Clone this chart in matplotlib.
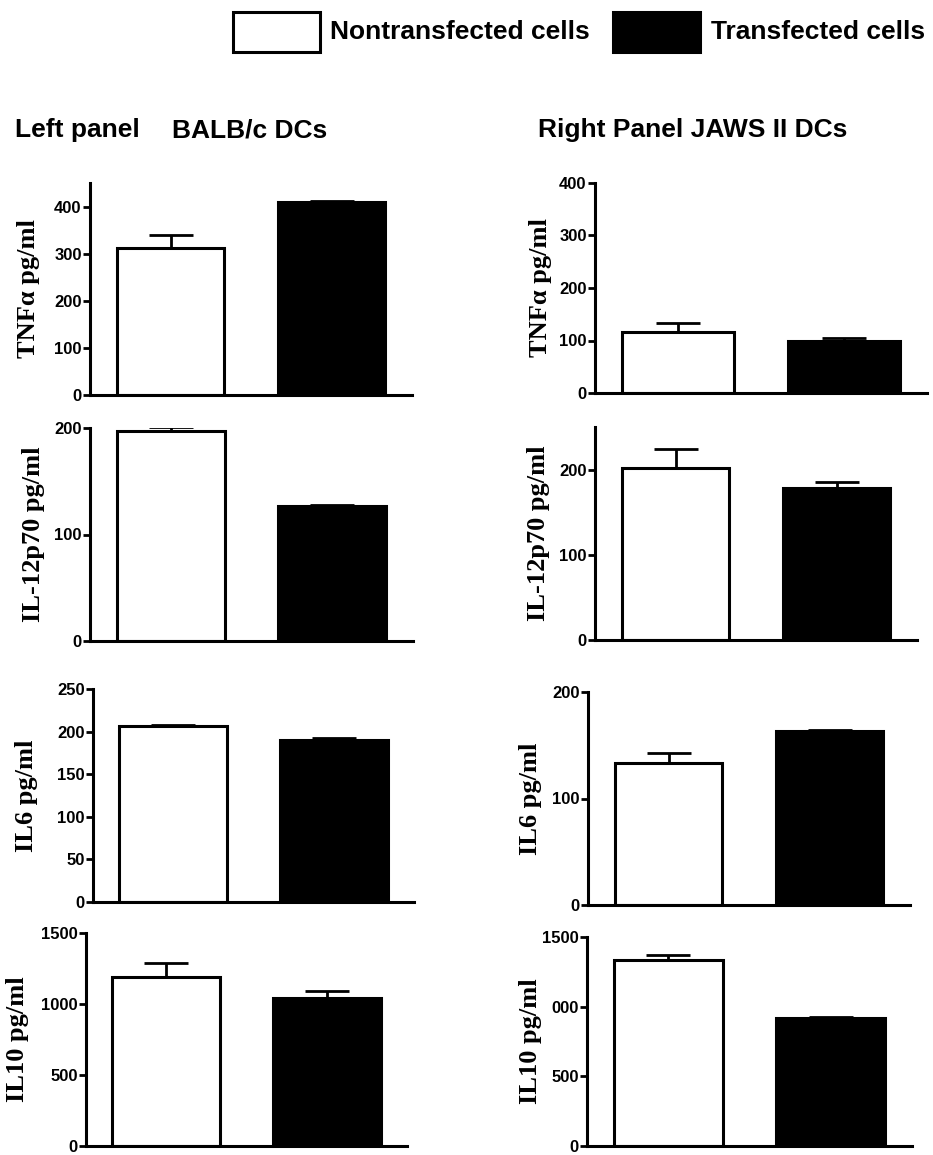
import matplotlib
matplotlib.use('Agg')
import matplotlib.pyplot as plt
from matplotlib.patches import Rectangle

plt.rcParams['font.family'] = ['Liberation Sans', 'DejaVu Sans']
plt.rcParams['font.weight'] = 'bold'

# data (upper error bar only)
groups = ['Nontransfected cells', 'Transfected cells']
cytokines = ['TNFα pg/ml', 'IL-12p70 pg/ml', 'IL6 pg/ml', 'IL10 pg/ml']

left_means = [[312, 410], [197, 127], [206, 190], [1190, 1042]]
left_errs = [[27, 2], [4, 1], [2, 2], [100, 52]]
right_means = [[116, 100], [202, 178], [133, 163], [1338, 917]]
right_errs = [[17, 4], [22, 7], [10, 1], [33, 11]]

left_ylims = [450, 200, 250, 1500]
left_ticks = [[0, 100, 200, 300, 400], [0, 100, 200],
              [0, 50, 100, 150, 200, 250], [0, 500, 1000, 1500]]
right_ylims = [400, 250, 200, 1500]
right_ticks = [[0, 100, 200, 300, 400], [0, 100, 200],
               [0, 100, 200], [0, 500, 1000, 1500]]
right_ticklabels = [None, None, None, ['0', '500', '000', '1500']]

W, H = 933, 1155

# axes boxes in pixels: x of y-axis, y of top, x of right end, y of zero line
left_boxes = [(90, 183, 412, 395), (90, 428, 413, 641),
              (93, 689, 414, 902), (86, 933, 407, 1146)]
right_boxes = [(595, 183, 927, 393), (595, 427, 917, 640),
               (588, 692, 910, 905), (587, 937, 912, 1146)]
left_label_x = [29, 34, 26, 18]
right_label_x = [540, 539, 530, 531]


def px_rect(x0, y0, x1, y1):
    return [x0 / W, 1 - y1 / H, (x1 - x0) / W, (y1 - y0) / H]


fig = plt.figure(figsize=(W / 100, H / 100), dpi=100)


def draw_panel(box, means, errs, ylim, ticks, label, label_x, ticklabels=None):
    ax = fig.add_axes(px_rect(*box))
    ax.bar([0, 1], means, width=0.67, color=['white', 'black'],
           edgecolor='black', linewidth=2.2, zorder=2)
    ax.errorbar([0, 1], means, yerr=[[0, 0], errs], fmt='none', ecolor='black',
                elinewidth=2, capsize=16, capthick=2, zorder=1)
    ax.set_xlim(-0.5, 1.5)
    ax.set_ylim(0, ylim)
    ax.set_yticks(ticks)
    if ticklabels is not None:
        ax.set_yticklabels(ticklabels)
    ax.set_xticks([])
    for s in ['top', 'right']:
        ax.spines[s].set_visible(False)
    for s in ['left', 'bottom']:
        ax.spines[s].set_linewidth(2.2)
    ax.tick_params(axis='y', direction='out', length=5, width=2, pad=1,
                   labelsize=12)
    yc = 1 - (box[1] + box[3]) / 2 / H
    fig.text(label_x / W, yc, label, rotation=90, ha='center', va='center',
             fontsize=19, fontweight='bold',
             family=['Liberation Serif', 'DejaVu Serif'])
    return ax


for i in range(4):
    draw_panel(left_boxes[i], left_means[i], left_errs[i], left_ylims[i],
               left_ticks[i], cytokines[i], left_label_x[i])
    draw_panel(right_boxes[i], right_means[i], right_errs[i], right_ylims[i],
               right_ticks[i], cytokines[i], right_label_x[i], right_ticklabels[i])

# panel headers
fig.text(15 / W, 1 - 130 / H, 'Left panel', fontsize=19, va='center', ha='left')
fig.text(172 / W, 1 - 130 / H, 'BALB/c DCs', fontsize=19, va='center', ha='left')
fig.text(538 / W, 1 - 130 / H, 'Right Panel JAWS II DCs', fontsize=19,
         va='center', ha='left')

# legend on top
fig.patches.append(Rectangle((233 / W, 1 - 52 / H), 87 / W, 40 / H,
                             transform=fig.transFigure, facecolor='white',
                             edgecolor='black', linewidth=2.2))
fig.text(330 / W, 1 - 32 / H, groups[0], fontsize=19, va='center', ha='left')
fig.patches.append(Rectangle((613 / W, 1 - 52 / H), 87 / W, 40 / H,
                             transform=fig.transFigure, facecolor='black',
                             edgecolor='black', linewidth=2.2))
fig.text(711 / W, 1 - 32 / H, groups[1], fontsize=19, va='center', ha='left')

fig.savefig('out.png', dpi=100, facecolor='white')
